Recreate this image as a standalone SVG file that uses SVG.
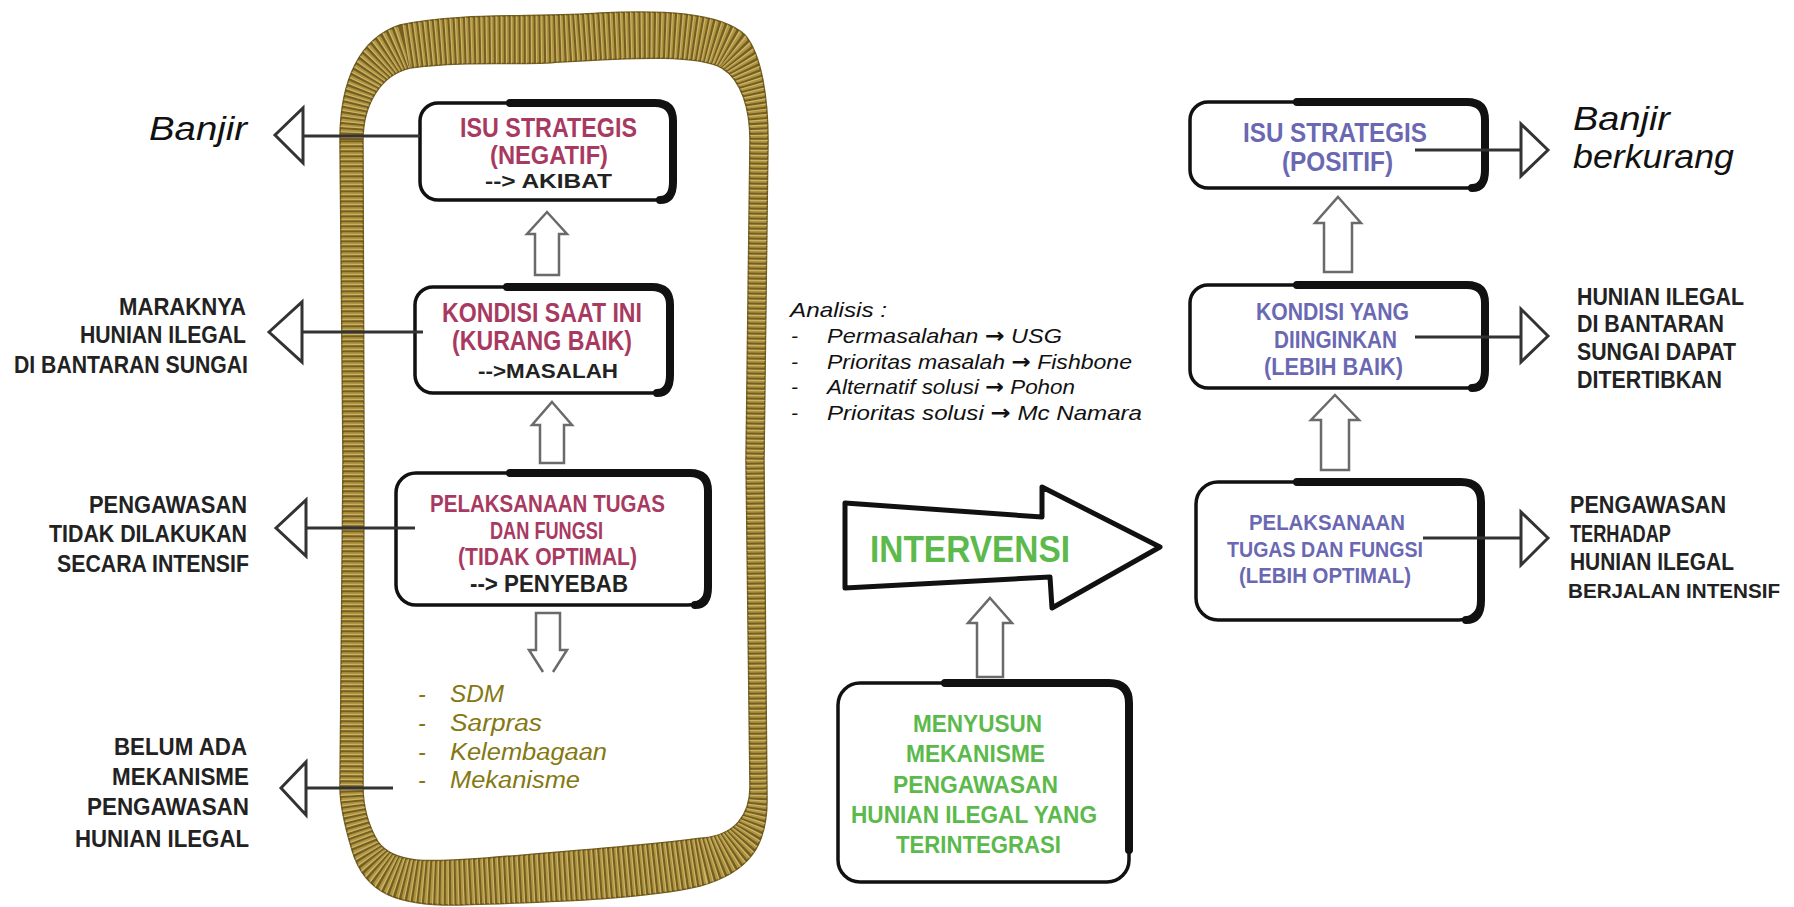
<svg xmlns="http://www.w3.org/2000/svg" width="1794" height="907" viewBox="0 0 1794 907">
<style>
.box{fill:#fff;stroke:#111;stroke-width:3.5}
.thick{fill:none;stroke:#111;stroke-width:8;stroke-linecap:round;stroke-linejoin:round}
.blk{font-family:"Liberation Sans",Arial,sans-serif;font-weight:bold}
.red{fill:#a83a62}
.blue{fill:#6a68b3}
.green{fill:#5cb94c}
.dark{fill:#222}
.hand{font-family:"Liberation Sans",Arial,sans-serif;font-style:italic}
.olive{fill:#857812}
.arr{font-family:"DejaVu Sans",sans-serif;font-style:normal;font-weight:bold}
.tri{fill:#fff;stroke:#333;stroke-width:3}
.ln{stroke:#333;stroke-width:3;fill:none}
.barrow{fill:#fff;stroke:#6a6a6a;stroke-width:2.5}
</style>
<defs>
<clipPath id="ropeClip">
<path clip-rule="evenodd" d="M340,140 C340,80 360,38 400,25 C460,12 540,18 600,13 C660,10 720,12 745,35 C762,55 768,100 768,140 L764,460 L767,800 C767,845 750,872 700,886 C640,900 540,902 460,905 C400,906 365,895 352,850 C343,820 340,800 340,787 L343,460 Z M363,140 C363,105 380,75 410,68 C470,60 520,66 560,62 C640,57 700,55 722,68 C742,80 750,110 750,140 L746,460 L750,787 C750,815 735,835 703,838 C640,846 560,852 487,858 C430,862 395,865 378,842 C368,825 363,805 363,787 L364,460 Z"/>
</clipPath>
</defs>
<rect width="1794" height="907" fill="#fff"/>

<g id="rope">
<path fill="#b0953f" fill-rule="evenodd" stroke="#6f5a1c" stroke-width="1.5" d="M340,140 C340,80 360,38 400,25 C460,12 540,18 600,13 C660,10 720,12 745,35 C762,55 768,100 768,140 L764,460 L767,800 C767,845 750,872 700,886 C640,900 540,902 460,905 C400,906 365,895 352,850 C343,820 340,800 340,787 L343,460 Z M363,140 C363,105 380,75 410,68 C470,60 520,66 560,62 C640,57 700,55 722,68 C742,80 750,110 750,140 L746,460 L750,787 C750,815 735,835 703,838 C640,846 560,852 487,858 C430,862 395,865 378,842 C368,825 363,805 363,787 L364,460 Z"/>
<g clip-path="url(#ropeClip)">
<path fill="none" stroke="#66501a" stroke-width="70" stroke-dasharray="2.2 2.8" opacity="0.8" d="M352,140 C352,92 370,56 405,46 C465,36 530,42 580,38 C650,33 710,33 733,51 C752,67 759,105 759,140 L755,460 L758,793 C758,830 742,853 702,862 C640,873 550,877 473,881 C415,884 380,880 365,846 C355,822 352,805 352,787 L353,460 Z"/>
<path fill="none" stroke="#e0cc88" stroke-width="70" stroke-dasharray="1.2 3.8" stroke-dashoffset="3" opacity="0.6" d="M352,140 C352,92 370,56 405,46 C465,36 530,42 580,38 C650,33 710,33 733,51 C752,67 759,105 759,140 L755,460 L758,793 C758,830 742,853 702,862 C640,873 550,877 473,881 C415,884 380,880 365,846 C355,822 352,805 352,787 L353,460 Z"/>
</g>
</g>

<g id="node-isu-negatif">
<rect class="box" x="420" y="103" width="253" height="97" rx="18"/>
<path class="thick" d="M510,103 H655 Q673,103 673,121 V182 Q673,200 660,200"/>
<text class="blk red" x="460" y="137" font-size="28" textLength="177" lengthAdjust="spacingAndGlyphs">ISU STRATEGIS</text>
<text class="blk red" x="490" y="164" font-size="26" textLength="118" lengthAdjust="spacingAndGlyphs">(NEGATIF)</text>
<text class="blk dark" x="485" y="188" font-size="20" textLength="127" lengthAdjust="spacingAndGlyphs">--&gt; AKIBAT</text>
</g>

<g id="node-kondisi-saat-ini">
<rect class="box" x="415" y="287" width="255" height="106" rx="18"/>
<path class="thick" d="M507,287 H652 Q670,287 670,305 V375 Q670,393 657,393"/>
<text class="blk red" x="442" y="322" font-size="27" textLength="200" lengthAdjust="spacingAndGlyphs">KONDISI SAAT INI</text>
<text class="blk red" x="452" y="350" font-size="27" textLength="180" lengthAdjust="spacingAndGlyphs">(KURANG BAIK)</text>
<text class="blk dark" x="478" y="378" font-size="20" textLength="140" lengthAdjust="spacingAndGlyphs">--&gt;MASALAH</text>
</g>

<g id="node-pelaksanaan-tidak-optimal">
<rect class="box" x="396" y="473" width="312" height="132" rx="20"/>
<path class="thick" d="M510,473 H690 Q708,473 708,491 V587 Q708,605 695,605"/>
<text class="blk red" x="430" y="512" font-size="24" textLength="235" lengthAdjust="spacingAndGlyphs">PELAKSANAAN TUGAS</text>
<text class="blk red" x="490" y="539" font-size="24" textLength="113" lengthAdjust="spacingAndGlyphs">DAN FUNGSI</text>
<text class="blk red" x="458" y="565" font-size="24" textLength="179" lengthAdjust="spacingAndGlyphs">(TIDAK OPTIMAL)</text>
<text class="blk dark" x="470" y="592" font-size="23" textLength="158" lengthAdjust="spacingAndGlyphs">--&gt; PENYEBAB</text>
</g>

<g id="node-penyebab-list">
<text class="hand olive" font-size="23" x="418" y="702">-</text>
<text class="hand olive" font-size="23" x="450" y="702" textLength="54" lengthAdjust="spacingAndGlyphs">SDM</text>
<text class="hand olive" font-size="23" x="418" y="731">-</text>
<text class="hand olive" font-size="23" x="450" y="731" textLength="92" lengthAdjust="spacingAndGlyphs">Sarpras</text>
<text class="hand olive" font-size="23" x="418" y="760">-</text>
<text class="hand olive" font-size="23" x="450" y="760" textLength="157" lengthAdjust="spacingAndGlyphs">Kelembagaan</text>
<text class="hand olive" font-size="23" x="418" y="788">-</text>
<text class="hand olive" font-size="23" x="450" y="788" textLength="130" lengthAdjust="spacingAndGlyphs">Mekanisme</text>
</g>

<g id="node-banjir">
<text class="hand" fill="#111" x="149" y="140" font-size="33" textLength="98" lengthAdjust="spacingAndGlyphs">Banjir</text>
</g>

<g id="node-maraknya">
<text class="blk dark" font-size="24" x="119" y="315" textLength="127" lengthAdjust="spacingAndGlyphs">MARAKNYA</text>
<text class="blk dark" font-size="24" x="80" y="343" textLength="166" lengthAdjust="spacingAndGlyphs">HUNIAN ILEGAL</text>
<text class="blk dark" font-size="24" x="14" y="373" textLength="234" lengthAdjust="spacingAndGlyphs">DI BANTARAN SUNGAI</text>
</g>

<g id="node-pengawasan-tidak">
<text class="blk dark" font-size="24" x="89" y="513" textLength="158" lengthAdjust="spacingAndGlyphs">PENGAWASAN</text>
<text class="blk dark" font-size="24" x="49" y="542" textLength="198" lengthAdjust="spacingAndGlyphs">TIDAK DILAKUKAN</text>
<text class="blk dark" font-size="24" x="57" y="572" textLength="192" lengthAdjust="spacingAndGlyphs">SECARA INTENSIF</text>
</g>

<g id="node-belum-ada">
<text class="blk dark" font-size="24" x="114" y="755" textLength="133" lengthAdjust="spacingAndGlyphs">BELUM ADA</text>
<text class="blk dark" font-size="24" x="112" y="785" textLength="137" lengthAdjust="spacingAndGlyphs">MEKANISME</text>
<text class="blk dark" font-size="24" x="87" y="815" textLength="162" lengthAdjust="spacingAndGlyphs">PENGAWASAN</text>
<text class="blk dark" font-size="24" x="75" y="847" textLength="174" lengthAdjust="spacingAndGlyphs">HUNIAN ILEGAL</text>
</g>

<g id="node-analisis">
<text class="hand" fill="#111" font-size="21" x="790" y="317" textLength="97" lengthAdjust="spacingAndGlyphs">Analisis :</text>
<text class="hand" fill="#111" font-size="21" x="791" y="343">-</text>
<text class="hand" fill="#111" font-size="21" x="827" y="343" textLength="235" lengthAdjust="spacingAndGlyphs">Permasalahan <tspan class="arr">→</tspan> USG</text>
<text class="hand" fill="#111" font-size="21" x="791" y="369">-</text>
<text class="hand" fill="#111" font-size="21" x="827" y="369" textLength="305" lengthAdjust="spacingAndGlyphs">Prioritas masalah <tspan class="arr">→</tspan> Fishbone</text>
<text class="hand" fill="#111" font-size="21" x="791" y="394">-</text>
<text class="hand" fill="#111" font-size="21" x="827" y="394" textLength="248" lengthAdjust="spacingAndGlyphs">Alternatif solusi <tspan class="arr">→</tspan> Pohon</text>
<text class="hand" fill="#111" font-size="21" x="791" y="420">-</text>
<text class="hand" fill="#111" font-size="21" x="827" y="420" textLength="315" lengthAdjust="spacingAndGlyphs">Prioritas solusi <tspan class="arr">→</tspan> Mc Namara</text>
</g>

<g id="node-intervensi">
<path fill="#fff" stroke="#111" stroke-width="5" stroke-linejoin="round" d="M845,503 L1042,517 L1042,487 L1160,547 L1052,608 L1050,577 L845,588 Z"/>
<text class="blk green" x="870" y="562" font-size="36" textLength="200" lengthAdjust="spacingAndGlyphs">INTERVENSI</text>
</g>

<g id="node-menyusun">
<rect class="box" x="838" y="683" width="291" height="199" rx="22"/>
<path class="thick" d="M945,683 H1109 Q1129,683 1129,703 V850"/>
<text class="blk green" font-size="24" x="913" y="732" textLength="129" lengthAdjust="spacingAndGlyphs">MENYUSUN</text>
<text class="blk green" font-size="24" x="906" y="762" textLength="139" lengthAdjust="spacingAndGlyphs">MEKANISME</text>
<text class="blk green" font-size="24" x="893" y="793" textLength="165" lengthAdjust="spacingAndGlyphs">PENGAWASAN</text>
<text class="blk green" font-size="24" x="851" y="823" textLength="246" lengthAdjust="spacingAndGlyphs">HUNIAN ILEGAL YANG</text>
<text class="blk green" font-size="24" x="896" y="853" textLength="165" lengthAdjust="spacingAndGlyphs">TERINTEGRASI</text>
</g>

<g id="node-isu-positif">
<rect class="box" x="1190" y="102" width="295" height="86" rx="18"/>
<path class="thick" d="M1297,102 H1467 Q1485,102 1485,120 V170 Q1485,188 1472,188"/>
<text class="blk blue" x="1243" y="142" font-size="27" textLength="184" lengthAdjust="spacingAndGlyphs">ISU STRATEGIS</text>
<text class="blk blue" x="1282" y="171" font-size="27" textLength="111" lengthAdjust="spacingAndGlyphs">(POSITIF)</text>
</g>

<g id="node-kondisi-diinginkan">
<rect class="box" x="1190" y="285" width="295" height="103" rx="18"/>
<path class="thick" d="M1297,285 H1467 Q1485,285 1485,303 V370 Q1485,388 1472,388"/>
<text class="blk blue" x="1256" y="320" font-size="24" textLength="153" lengthAdjust="spacingAndGlyphs">KONDISI YANG</text>
<text class="blk blue" x="1274" y="348" font-size="24" textLength="123" lengthAdjust="spacingAndGlyphs">DIINGINKAN</text>
<text class="blk blue" x="1264" y="375" font-size="24" textLength="139" lengthAdjust="spacingAndGlyphs">(LEBIH BAIK)</text>
</g>

<g id="node-pelaksanaan-optimal">
<rect class="box" x="1196" y="482" width="285" height="138" rx="22"/>
<path class="thick" d="M1297,482 H1461 Q1481,482 1481,502 V600 Q1481,620 1466,620"/>
<text class="blk blue" x="1249" y="530" font-size="22" textLength="156" lengthAdjust="spacingAndGlyphs">PELAKSANAAN</text>
<text class="blk blue" x="1227" y="557" font-size="22" textLength="196" lengthAdjust="spacingAndGlyphs">TUGAS DAN FUNGSI</text>
<text class="blk blue" x="1239" y="583" font-size="22" textLength="172" lengthAdjust="spacingAndGlyphs">(LEBIH OPTIMAL)</text>
</g>

<g id="node-banjir-berkurang">
<text class="hand" fill="#111" font-size="33" x="1573" y="130" textLength="97" lengthAdjust="spacingAndGlyphs">Banjir</text>
<text class="hand" fill="#111" font-size="33" x="1573" y="168" textLength="161" lengthAdjust="spacingAndGlyphs">berkurang</text>
</g>

<g id="node-hunian-ditertibkan">
<text class="blk dark" font-size="24" x="1577" y="305" textLength="167" lengthAdjust="spacingAndGlyphs">HUNIAN ILEGAL</text>
<text class="blk dark" font-size="24" x="1577" y="332" textLength="147" lengthAdjust="spacingAndGlyphs">DI BANTARAN</text>
<text class="blk dark" font-size="24" x="1577" y="360" textLength="159" lengthAdjust="spacingAndGlyphs">SUNGAI DAPAT</text>
<text class="blk dark" font-size="24" x="1577" y="388" textLength="145" lengthAdjust="spacingAndGlyphs">DITERTIBKAN</text>
</g>

<g id="node-pengawasan-intensif">
<text class="blk dark" font-size="24" x="1570" y="513" textLength="156" lengthAdjust="spacingAndGlyphs">PENGAWASAN</text>
<text class="blk dark" font-size="24" x="1570" y="542" textLength="101" lengthAdjust="spacingAndGlyphs">TERHADAP</text>
<text class="blk dark" font-size="24" x="1570" y="570" textLength="164" lengthAdjust="spacingAndGlyphs">HUNIAN ILEGAL</text>
<text class="blk dark" font-size="21" x="1568" y="598" textLength="212" lengthAdjust="spacingAndGlyphs">BERJALAN INTENSIF</text>
</g>

<g id="connectors">
<path class="ln" d="M303,136 H420"/>
<polygon class="tri" points="275,135 303,108 303,163"/>
<path class="ln" d="M302,332 H423"/>
<polygon class="tri" points="269,332 302,302 302,362"/>
<path class="ln" d="M306,528 H415"/>
<polygon class="tri" points="276,528 306,500 306,556"/>
<path class="ln" d="M306,788 H393"/>
<polygon class="tri" points="281,788 306,762 306,815"/>

<path class="ln" d="M1415,150 H1521"/>
<polygon class="tri" points="1548,150 1521,124 1521,176"/>
<path class="ln" d="M1415,337 H1521"/>
<polygon class="tri" points="1548,336 1521,309 1521,362"/>
<path class="ln" d="M1423,538 H1521"/>
<polygon class="tri" points="1548,538 1521,512 1521,565"/>

<polygon class="barrow" points="547,212 567,234 559,234 559,275 535,275 535,234 527,234"/>
<polygon class="barrow" points="552,402 572,425 564,425 564,463 540,463 540,425 532,425"/>
<path class="barrow" d="M543,672 L529,650 L536,650 L536,613 L560,613 L560,650 L567,650 L553,672"/>
<polygon class="barrow" points="1338,197 1361,223 1352,223 1352,272 1324,272 1324,223 1315,223"/>
<polygon class="barrow" points="1335,395 1359,420 1349,420 1349,470 1321,470 1321,420 1311,420"/>
<polygon class="barrow" points="990,598 1012,623 1003,623 1003,677 977,677 977,623 968,623"/>
</g>
</svg>
